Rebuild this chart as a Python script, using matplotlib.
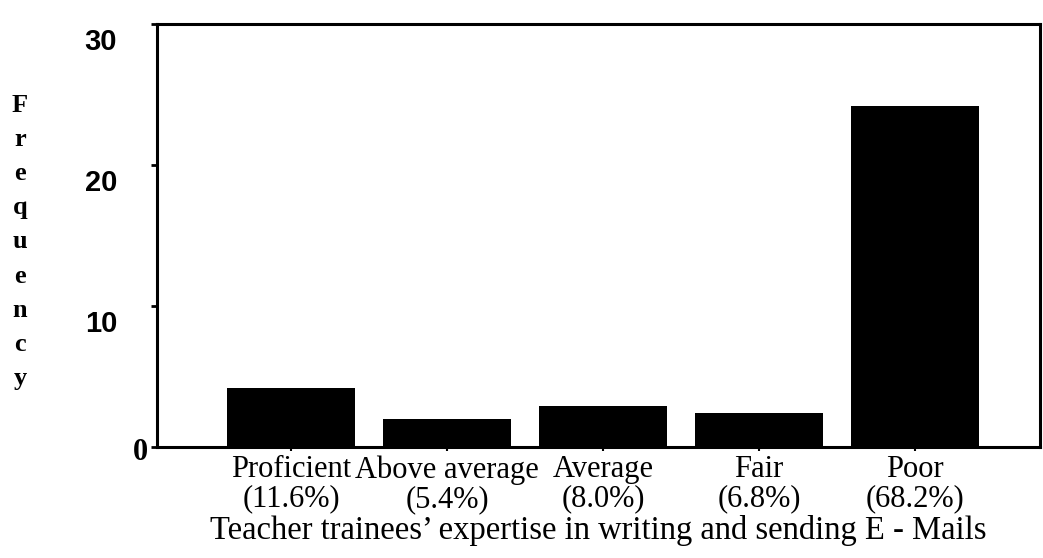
import matplotlib.pyplot as plt
import matplotlib.transforms as mtransforms


categories = ["Proficient", "Above average", "Average", "Fair", "Poor"]
percentages = ["11.6%", "5.4%", "8.0%", "6.8%", "68.2%"]
frequencies = [4.2, 2.0, 2.9, 2.4, 24.2]
y_ticks = [0, 10, 20, 30]


def main() -> None:
    figure = plt.figure(figsize=(10.43, 5.58), dpi=100)
    axis = figure.add_axes([157 / 1043, 1 - 447 / 558, 883 / 1043, 423 / 558])

    positions = range(len(categories))
    axis.bar(positions, frequencies, width=0.82, color="black")

    axis.set_xlim(-0.86, 4.8)
    axis.set_ylim(0, 30)

    # tick labels drawn by hand: in the scan they sit below their tick marks
    axis.set_yticks(y_ticks)
    axis.set_yticklabels([])
    blend = mtransforms.blended_transform_factory(axis.transAxes, axis.transData)
    for tick in y_ticks:
        if tick == 0:
            axis.text(
                -0.01, tick, "0",
                transform=blend + mtransforms.ScaledTranslation(
                    0, -0.05, figure.dpi_scale_trans
                ),
                fontsize=22, fontweight="bold", family="Liberation Serif",
                ha="right", va="center",
            )
        else:
            axis.text(
                -0.045, tick, str(tick),
                transform=blend + mtransforms.ScaledTranslation(
                    0, -0.18, figure.dpi_scale_trans
                ),
                fontsize=21, fontweight="bold", family="Liberation Sans",
                ha="right", va="center",
            )

    axis.set_xticks(list(positions))
    axis.set_xticklabels(
        [f"{c}\n({p})" for c, p in zip(categories, percentages, strict=True)],
        fontsize=22,
        family="Liberation Serif",
        linespacing=1.0,
    )
    axis.tick_params(axis="y", length=4, width=2)
    axis.tick_params(axis="x", length=3, width=1.5, pad=3)

    for spine in axis.spines.values():
        spine.set_linewidth(2.2)

    axis.set_xlabel(
        "Teacher trainees\u2019 expertise in writing and sending E - Mails",
        fontsize=23.5,
        family="Liberation Serif",
        labelpad=1,
    )

    figure.text(
        20 / 1043,
        1 - 242 / 558,
        "\n".join("Frequency"),
        fontsize=19,
        fontweight="bold",
        family="Liberation Serif",
        ha="center",
        va="center",
        linespacing=1.62,
    )

    figure.savefig("out.png", dpi=100)


if __name__ == "__main__":
    main()
